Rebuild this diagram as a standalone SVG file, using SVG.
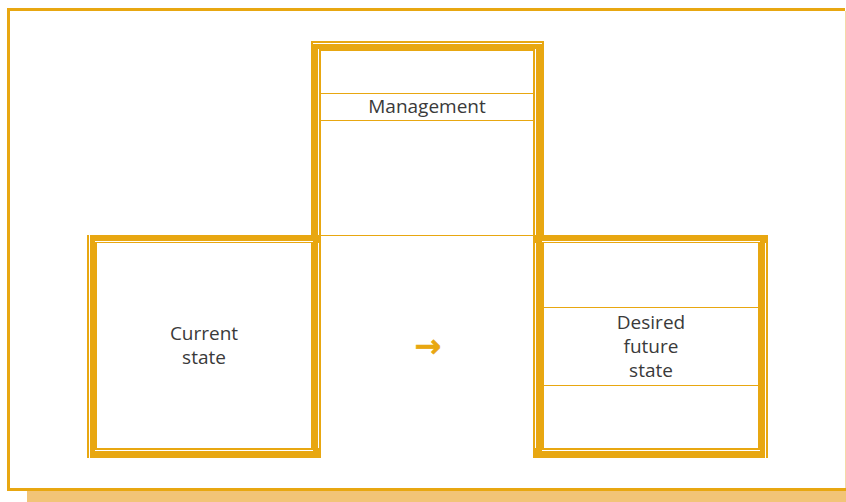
<svg xmlns="http://www.w3.org/2000/svg" width="846" height="502" viewBox="0 0 846 502">
  <style>
    .wall { fill: #E8A711; }
    .gap { stroke: #FFFFFF; stroke-width: 1; }
    .rule { stroke: #E8A711; stroke-width: 1; fill: none; }
    .label { font-family: "Open Sans", "Noto Sans", "Liberation Sans", sans-serif; font-size: 19px; fill: #3A3A3A; text-anchor: middle; }
    .arrow { font-family: "DejaVu Sans", "Noto Sans", sans-serif; font-size: 32px; font-weight: bold; fill: #E8A711; stroke: #E8A711; stroke-width: 0.6; text-anchor: middle; }
  </style>

  <rect width="846" height="502" fill="#FFFFFF"/>

  <!-- page frame with offset shadow strip -->
  <g id="frame">
    <rect x="27" y="491" width="819" height="11" fill="#F2C477"/>
    <rect x="7" y="8" width="838" height="3" class="wall"/>
    <rect x="7" y="8" width="3" height="483" class="wall"/>
    <rect x="7" y="488" width="839" height="3" class="wall"/>
    <line x1="845.5" y1="11" x2="845.5" y2="488" stroke="#F5D9A6" stroke-width="1"/>
  </g>

  <!-- central column -->
  <g id="management">
    <rect x="311" y="41" width="233" height="10" class="wall"/>
    <rect x="311" y="41" width="10" height="417" class="wall"/>
    <rect x="533" y="41" width="11" height="417" class="wall"/>
    <line x1="313" y1="43.5" x2="542" y2="43.5" class="gap"/>
    <line x1="318.5" y1="49" x2="318.5" y2="456" class="gap"/>
    <line x1="535.5" y1="49" x2="535.5" y2="456" class="gap"/>
    <line x1="321" y1="93.5" x2="533" y2="93.5" class="rule"/>
    <line x1="321" y1="120.5" x2="533" y2="120.5" class="rule"/>
    <line x1="321" y1="235.5" x2="533" y2="235.5" class="rule"/>
    <text x="427" y="113" class="label">Management</text>
  </g>

  <!-- left block -->
  <g id="current-state">
    <rect x="87" y="235" width="234" height="8" class="wall"/>
    <rect x="87" y="448" width="234" height="10" class="wall"/>
    <rect x="87" y="235" width="10" height="223" class="wall"/>
    <line x1="89.5" y1="235" x2="89.5" y2="458" class="gap"/>
    <line x1="95" y1="241.5" x2="313" y2="241.5" class="gap"/>
    <line x1="95" y1="450.5" x2="313" y2="450.5" class="gap"/>
    <text x="204" y="340" class="label">Current</text>
    <text x="204" y="364" class="label">state</text>
  </g>

  <!-- right block -->
  <g id="desired-state">
    <rect x="533" y="235" width="235" height="8" class="wall"/>
    <rect x="533" y="448" width="235" height="10" class="wall"/>
    <rect x="758" y="235" width="10" height="223" class="wall"/>
    <line x1="765.5" y1="243" x2="765.5" y2="458" class="gap"/>
    <line x1="542" y1="241.5" x2="760" y2="241.5" class="gap"/>
    <line x1="542" y1="450.5" x2="760" y2="450.5" class="gap"/>
    <line x1="544" y1="307.5" x2="758" y2="307.5" class="rule"/>
    <line x1="544" y1="385.5" x2="758" y2="385.5" class="rule"/>
    <text x="651" y="329" class="label">Desired</text>
    <text x="651" y="353" class="label">future</text>
    <text x="651" y="377" class="label">state</text>
  </g>

  <g id="connectors">
    <text x="428" y="357" class="arrow">→</text>
  </g>
</svg>
